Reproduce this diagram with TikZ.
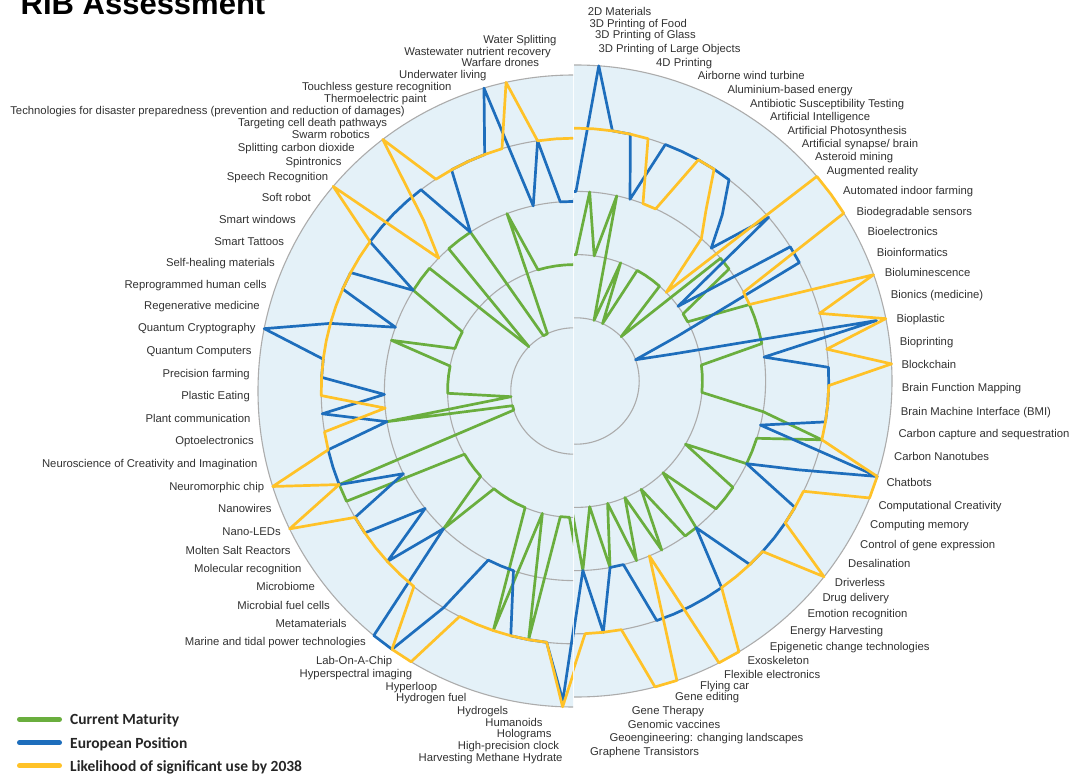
\documentclass[tikz,border=0pt]{standalone}
\usepackage{fontspec}
\setmainfont{Liberation Sans}
\newfontfamily\legfont{Carlito}
\definecolor{bgblue}{RGB}{228,241,248}
\definecolor{ringgray}{RGB}{172,172,172}
\definecolor{sgreen}{RGB}{106,174,62}
\definecolor{sblue}{RGB}{30,110,188}
\definecolor{syellow}{RGB}{255,194,40}
\definecolor{lbl}{RGB}{50,50,50}
% values for 87 categories (clockwise from top)
\def\gvals{{2,3,2,3,1,2,1,2,2,2, 2,1,3,3,2,2,3,3,3,3, 2,2,2,2,3,4,3,3,3,2, 3,3,3,2,3,3,2,3,2,3, 2,3,2,3, 2,2,4,2,4,2, 2,2,2,2,3,2,2,2,2,4, 4,1,1,3,1,2,2,2,2,3, 2,2,2,3,3,3,1,3,3,3, 1,1,3,2,2,2,2}}
\def\bvals{{3,5,4,4,3,4,4,4,4,4, 3.5,3,4,2,4,4,1.75,1,1.6,4.85, 3,4,4,4,4,3,5,3.8,3,4, 4,4,4,4,3,4,4,4,4,4, 3,3,4,3, 4.9,4,4,4,3,3, 3,4,5,5,3,4,3,4,4,3, 4,4,4,3,4,3,4,4,5,4, 3,4,4,3,4,4,4,4,4,3, 4,4,4,5,3,4,3}}
\def\yvals{{4,4,4,4,4,3,3,4,4,3.4, 3,2,5,5,5,3,3,5,4,5, 4,5,4,4,4,4,5,5,4,4, 4,5,4,4,4,4,5,5,3,5, 5,4,4,4, 5,4,4,4,4,4, 4,5,5,4,4,4,4,4,4,5, 4,5,4,4,3,4,4,4,4,4, 4,4,4,4,4,5,3,3.6,5,4, 4,4,4,4,5,4,4}}
\tikzset{
  ring/.style={draw=ringgray, line width=1.1pt},
  series/.style={line width=2.7pt, line join=round, line cap=round},
  lblR/.style={anchor=base west, inner sep=0pt, text=lbl, font=\fontsize{11.3}{13}\selectfont},
  lblL/.style={anchor=base east, inner sep=0pt, text=lbl, font=\fontsize{11.3}{13}\selectfont},
  legline/.style={line width=5pt, line cap=round},
  legtext/.style={anchor=base west, inner sep=0pt, text=black!85, font=\legfont\bfseries\fontsize{15.5}{18}\selectfont},
}
\newcommand\drawhalf[1]{%
  \fill[bgblue] (0,0) circle[radius=316];
  \foreach \rr in {1,...,5} {\draw[ring] (0,0) circle[radius=\rr*63.2];}
  \foreach \i in {0,...,86} {
    \pgfmathsetmacro\rg{\gvals[\i]*63.2}
    \pgfmathsetmacro\rb{\bvals[\i]*63.2}
    \pgfmathsetmacro\ry{\yvals[\i]*63.2}
    \pgfmathsetmacro\ang{\i*4.137931-90}
    \coordinate (#1g\i) at (\ang:\rg);
    \coordinate (#1b\i) at (\ang:\rb);
    \coordinate (#1y\i) at (\ang:\ry);
  }
  \draw[series, sgreen] (#1g0) \foreach \i in {1,...,86} {-- (#1g\i)} -- cycle;
  \draw[series, sblue] (#1b0) \foreach \i in {1,...,86} {-- (#1b\i)} -- cycle;
  \draw[series, syellow] (#1y0) \foreach \i in {1,...,86} {-- (#1y\i)} -- cycle;
}
\begin{document}
\begin{tikzpicture}[x=1pt,y=-1pt]
\useasboundingbox (0,0) rectangle (1074,776);
\fill[white] (0,0) rectangle (1074,776);
% left half
\begin{scope}
  \clip (0,-20) rectangle (573,800);
  \begin{scope}[shift={(574,391)}]
    \drawhalf{L}
  \end{scope}
\end{scope}
% right half
\begin{scope}
  \clip (574,-20) rectangle (1100,800);
  \begin{scope}[shift={(576,381)}]
    \drawhalf{R}
  \end{scope}
\end{scope}
% title
\node[anchor=base west, inner sep=0pt, font=\bfseries\fontsize{31}{36}\selectfont] (title) at (20.5,15) {RIB Assessment};
% right labels
\node[lblR] (n1) at (587.7,15.7) {2D Materials};
\node[lblR] (n2) at (589.3,28) {3D Printing of Food};
\node[lblR] (n3) at (595,39) {3D Printing of Glass};
\node[lblR] (n4) at (598.3,53) {3D Printing of Large Objects};
\node[lblR] (n5) at (656,66.3) {4D Printing};
\node[lblR] (n6) at (697.7,80) {Airborne wind turbine};
\node[lblR] (n7) at (727.3,93.3) {Aluminium-based energy};
\node[lblR] (n8) at (750,107.3) {Antibiotic Susceptibility Testing};
\node[lblR] (n9) at (770,120.7) {Artificial Intelligence};
\node[lblR] (n10) at (787.3,134) {Artificial Photosynthesis};
\node[lblR] (n11) at (801.7,147.3) {Artificial synapse/ brain};
\node[lblR] (n12) at (815,160.7) {Asteroid mining};
\node[lblR] (n13) at (826.7,174.7) {Augmented reality};
\node[lblR] (n14) at (843,194.7) {Automated indoor farming};
\node[lblR] (n15) at (856.3,215.7) {Biodegradable sensors};
\node[lblR] (n16) at (867.3,235.7) {Bioelectronics};
\node[lblR] (n17) at (876.7,256.3) {Bioinformatics};
\node[lblR] (n18) at (884.7,276.7) {Bioluminescence};
\node[lblR] (n19) at (890.7,298) {Bionics (medicine)};
\node[lblR] (n20) at (896.3,322.3) {Bioplastic};
\node[lblR] (n21) at (899.7,345.7) {Bioprinting};
\node[lblR] (n22) at (901.3,368.3) {Blockchain};
\node[lblR] (n23) at (901.7,391.7) {Brain Function Mapping};
\node[lblR] (n24) at (900.7,415) {Brain Machine Interface (BMI)};
\node[lblR] (n25) at (898.3,437.3) {Carbon capture and sequestration};
\node[lblR] (n26) at (894,460.7) {Carbon Nanotubes};
\node[lblR] (n27) at (886.3,486.3) {Chatbots};
\node[lblR] (n28) at (878.3,509) {Computational Creativity};
\node[lblR] (n29) at (870,528.3) {Computing memory};
\node[lblR] (n30) at (860,548) {Control of gene expression};
\node[lblR] (n31) at (848,567.3) {Desalination};
\node[lblR] (n32) at (834.7,586.3) {Driverless};
\node[lblR] (n33) at (822.3,601.3) {Drug delivery};
\node[lblR] (n34) at (807.3,617.3) {Emotion recognition};
\node[lblR] (n35) at (790,634) {Energy Harvesting};
\node[lblR] (n36) at (769.7,650) {Epigenetic change technologies};
\node[lblR] (n37) at (747.3,664.7) {Exoskeleton};
\node[lblR] (n38) at (724,678.3) {Flexible electronics};
\node[lblR] (n39) at (700,689.7) {Flying car};
\node[lblR] (n40) at (675,700.7) {Gene editing};
\node[lblR] (n41) at (631.7,714.7) {Gene Therapy};
\node[lblR] (n42) at (627.7,728.3) {Genomic vaccines};
\node[lblR] (n43) at (609.3,741.7) {Geoengineering: changing landscapes};
\node[lblR] (n44) at (590,755.7) {Graphene Transistors};
% left labels
\node[lblL] (n45) at (562.7,761.7) {Harvesting Methane Hydrate};
\node[lblL] (n46) at (559.3,749.3) {High-precision clock};
\node[lblL] (n47) at (551.7,737.3) {Holograms};
\node[lblL] (n48) at (542.7,726.3) {Humanoids};
\node[lblL] (n49) at (508.3,714.7) {Hydrogels};
\node[lblL] (n50) at (466.7,701.7) {Hydrogen fuel};
\node[lblL] (n51) at (437.3,690.7) {Hyperloop};
\node[lblL] (n52) at (412.3,677.3) {Hyperspectral imaging};
\node[lblL] (n53) at (392.3,664) {Lab-On-A-Chip};
\node[lblL] (n54) at (366,645.7) {Marine and tidal power technologies};
\node[lblL] (n55) at (346.7,627.3) {Metamaterials};
\node[lblL] (n56) at (330,609) {Microbial fuel cells};
\node[lblL] (n57) at (315,590.7) {Microbiome};
\node[lblL] (n58) at (301.7,572.3) {Molecular recognition};
\node[lblL] (n59) at (290.7,554) {Molten Salt Reactors};
\node[lblL] (n60) at (281,535) {Nano-LEDs};
\node[lblL] (n61) at (271.7,512.3) {Nanowires};
\node[lblL] (n62) at (264.3,490) {Neuromorphic chip};
\node[lblL] (n63) at (257.7,467.3) {Neuroscience of Creativity and Imagination};
\node[lblL] (n64) at (254,444.7) {Optoelectronics};
\node[lblL] (n65) at (250.7,422.3) {Plant communication};
\node[lblL] (n66) at (250,399) {Plastic Eating};
\node[lblL] (n67) at (250,377) {Precision farming};
\node[lblL] (n68) at (251.7,354) {Quantum Computers};
\node[lblL] (n69) at (255.7,331.3) {Quantum Cryptography};
\node[lblL] (n70) at (260,309.7) {Regenerative medicine};
\node[lblL] (n71) at (266.7,288) {Reprogrammed human cells};
\node[lblL] (n72) at (275,266.3) {Self-healing materials};
\node[lblL] (n73) at (284.3,245) {Smart Tattoos};
\node[lblL] (n74) at (296,223.3) {Smart windows};
\node[lblL] (n75) at (311,201.7) {Soft robot};
\node[lblL] (n76) at (328.3,180) {Speech Recognition};
\node[lblL] (n77) at (341.7,165) {Spintronics};
\node[lblL] (n78) at (355,151.7) {Splitting carbon dioxide};
\node[lblL] (n79) at (370,139) {Swarm robotics};
\node[lblL] (n80) at (387.3,126.7) {Targeting cell death pathways};
\node[lblL] (n81) at (405,114) {Technologies for disaster preparedness (prevention and reduction of damages)};
\node[lblL] (n82) at (426.7,102.3) {Thermoelectric paint};
\node[lblL] (n83) at (451.7,90.7) {Touchless gesture recognition};
\node[lblL] (n84) at (486.7,79) {Underwater living};
\node[lblL] (n85) at (539.3,66.3) {Warfare drones};
\node[lblL] (n86) at (551,55.7) {Wastewater nutrient recovery};
\node[lblL] (n87) at (556.7,43.3) {Water Splitting};
% legend
\coordinate (lga1) at (19.5,719.3); \coordinate (lgb1) at (59.5,719.3);
\coordinate (lga2) at (19.5,742.7); \coordinate (lgb2) at (59.5,742.7);
\coordinate (lga3) at (19.5,765.7); \coordinate (lgb3) at (59.5,765.7);
\draw[legline, sgreen] (lga1) -- (lgb1);
\draw[legline, sblue] (lga2) -- (lgb2);
\draw[legline, syellow] (lga3) -- (lgb3);
\node[legtext] (lt1) at (70,724.6) {Current Maturity};
\node[legtext] (lt2) at (70,748) {European Position};
\node[legtext] (lt3) at (70,771) {Likelihood of significant use by 2038};
\end{tikzpicture}
\end{document}
